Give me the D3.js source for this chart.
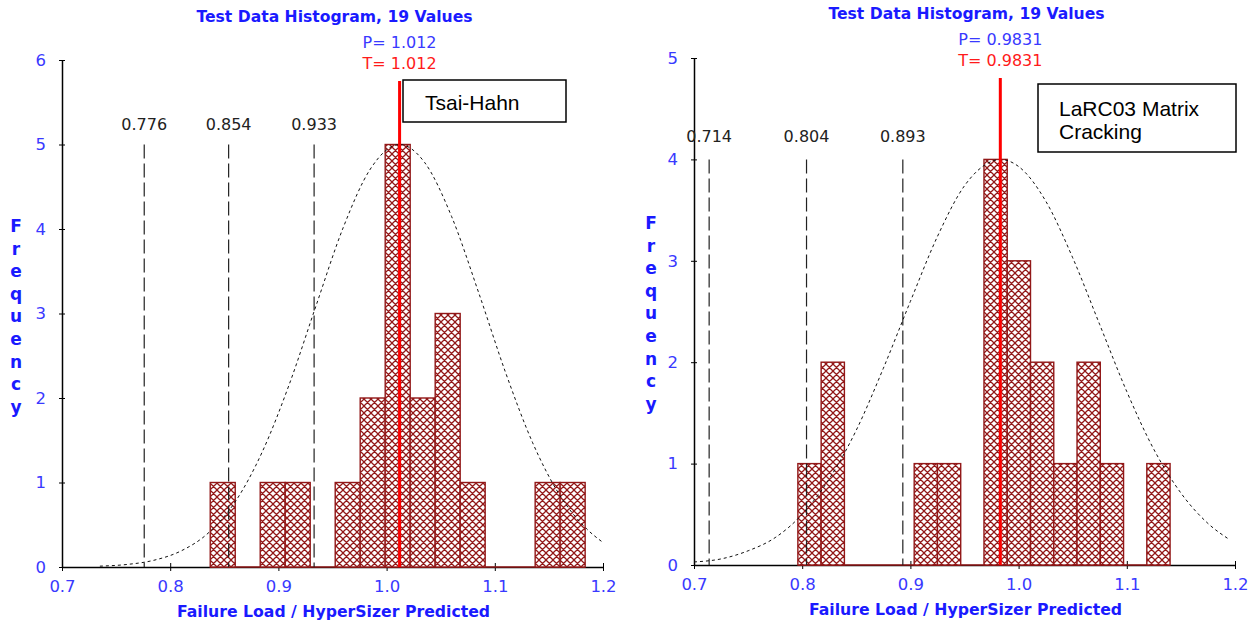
<!DOCTYPE html>
<html>
<head>
<meta charset="utf-8">
<script src="https://cdn.jsdelivr.net/npm/d3@7"></script>
<style>
  body { margin: 0; background: #fff; }
  svg { display: block; }
</style>
</head>
<body>
<svg width="1257" height="627"></svg>
<script>
// ---- data ----
var leftCounts = [1, 0, 1, 1, 0, 1, 2, 5, 2, 3, 1, 0, 0, 1, 1];
var leftBinStart = 0.837, leftBinWidth = 0.0231;
var leftMean = 1.012;
var leftSigmaLines = [0.776, 0.854, 0.933];
var leftCurveX = [0.735, 0.76, 0.785, 0.81, 0.835, 0.86, 0.885, 0.91, 0.935, 0.96, 0.985, 1.012, 1.035, 1.06, 1.085, 1.11, 1.135, 1.16, 1.185, 1.2];
var leftCurveY = [0.01, 0.03, 0.08, 0.19, 0.40, 0.77, 1.36, 2.16, 3.10, 4.02, 4.71, 5.0, 4.79, 4.15, 3.25, 2.30, 1.47, 0.85, 0.45, 0.29];

var rightCounts = [1, 2, 0, 0, 0, 1, 1, 0, 4, 3, 2, 1, 2, 1, 0, 1];
var rightBinStart = 0.796, rightBinWidth = 0.0215;
var rightMean = 0.9831;
var rightSigmaLines = [0.714, 0.804, 0.893];
var rightCurveX = [0.70, 0.725, 0.75, 0.775, 0.80, 0.825, 0.85, 0.875, 0.90, 0.925, 0.95, 0.975, 0.983, 1.00, 1.025, 1.05, 1.075, 1.10, 1.125, 1.15, 1.175, 1.195];
var rightCurveY = [0.03, 0.06, 0.14, 0.27, 0.50, 0.85, 1.33, 1.94, 2.60, 3.24, 3.74, 3.98, 4.0, 3.93, 3.59, 3.03, 2.37, 1.71, 1.14, 0.71, 0.41, 0.25];

var xTicks = [0.7, 0.8, 0.9, 1.0, 1.1, 1.2];

var svg = d3.select("svg");
var barColor = "#921818";
var fontMain = "'DejaVu Sans'";

// crosshatch fill
var defs = svg.append("defs");
var pat = defs.append("pattern")
  .attr("id", "hatch")
  .attr("patternUnits", "userSpaceOnUse")
  .attr("width", 7).attr("height", 7);
pat.append("rect").attr("width", 7).attr("height", 7).attr("fill", "#fff");
pat.append("path")
  .attr("d", "M0,0L7,7M0,7L7,0M-1,1L1,-1M6,8L8,6M-1,6L1,8M6,-1L8,1")
  .attr("stroke", barColor).attr("stroke-width", 1.25);

function drawChart(cfg) {
  var x = d3.scaleLinear().domain([0.7, 1.2]).range([cfg.left, cfg.right]);
  var y = d3.scaleLinear().domain([0, cfg.ymax]).range([cfg.bottom, cfg.top]);
  var g = svg.append("g");
  var maxCount = d3.max(cfg.counts);

  // title
  g.append("text")
    .attr("x", (cfg.left + cfg.right) / 2 + 2).attr("y", cfg.titleY)
    .attr("text-anchor", "middle")
    .style("font", "bold 15.6px " + fontMain).attr("fill", "#1a1aff")
    .text("Test Data Histogram, 19 Values");

  // P / T labels
  g.append("text")
    .attr("x", x(cfg.mean)).attr("y", cfg.pY)
    .attr("text-anchor", "middle")
    .style("font", "16px " + fontMain).attr("fill", "#3939ff")
    .text("P= " + cfg.meanLabel);
  g.append("text")
    .attr("x", x(cfg.mean)).attr("y", cfg.tY)
    .attr("text-anchor", "middle")
    .style("font", "16px " + fontMain).attr("fill", "#ff1a1a")
    .text("T= " + cfg.meanLabel);

  // bars
  var bins = cfg.counts.map(function(c, i) {
    return { x0: cfg.binStart + i * cfg.binWidth, x1: cfg.binStart + (i + 1) * cfg.binWidth, n: c };
  }).filter(function(d) { return d.n > 0; });

  // axes
  var xAxis = g.append("g")
    .attr("transform", "translate(0," + cfg.bottom + ")")
    .call(d3.axisBottom(x).tickValues(xTicks).tickFormat(d3.format(".1f")).tickSize(4).tickSizeOuter(0));
  var yAxis = g.append("g")
    .attr("transform", "translate(" + cfg.left + ",0)")
    .call(d3.axisLeft(y).ticks(cfg.ymax).tickFormat(d3.format("d")).tickSize(3).tickSizeOuter(0).tickPadding(13));
  [xAxis, yAxis].forEach(function(a) {
    a.select(".domain").attr("stroke", "#000").attr("stroke-width", 1.5);
    a.selectAll(".tick line").attr("stroke", "#000");
    a.selectAll(".tick text").attr("fill", "#3939ff").style("font-size", "16.5px").style("font-family", fontMain);
  });
  xAxis.selectAll(".tick text").attr("y", 25).attr("dy", null);
  xAxis.selectAll(".tick line").attr("y1", -4);
  yAxis.selectAll(".tick line").attr("x1", 3);

  // red baseline under the histogram range
  g.append("line")
    .attr("x1", x(cfg.binStart)).attr("x2", x(cfg.binStart + cfg.counts.length * cfg.binWidth))
    .attr("y1", cfg.bottom).attr("y2", cfg.bottom)
    .attr("stroke", barColor).attr("stroke-width", 1.5);

  g.append("g").selectAll("rect").data(bins).enter().append("rect")
    .attr("x", function(d) { return x(d.x0); })
    .attr("y", function(d) { return y(d.n); })
    .attr("width", function(d) { return x(d.x1) - x(d.x0); })
    .attr("height", function(d) { return y(0) - y(d.n); })
    .attr("fill", "url(#hatch)")
    .attr("stroke", barColor).attr("stroke-width", 1.4);

  // sigma lines
  g.append("g").selectAll("line").data(cfg.sigmaLines).enter().append("line")
    .attr("x1", function(d) { return x(d); }).attr("x2", function(d) { return x(d); })
    .attr("y1", y(maxCount)).attr("y2", cfg.bottom)
    .attr("stroke", "#222").attr("stroke-width", 1.2)
    .attr("stroke-dasharray", "14,5");
  g.append("g").selectAll("text").data(cfg.sigmaLines).enter().append("text")
    .attr("x", function(d) { return x(d); }).attr("y", cfg.sigmaLabelY)
    .attr("text-anchor", "middle")
    .style("font", "16px " + fontMain).attr("fill", "#222")
    .text(function(d) { return d3.format(".3f")(d); });

  // fitted curve
  var pts = cfg.curveX.map(function(v, i) { return [v, cfg.curveY[i]]; });
  g.append("path")
    .datum(pts)
    .attr("d", d3.line().x(function(d) { return x(d[0]); }).y(function(d) { return y(d[1]); }).curve(d3.curveMonotoneX))
    .attr("fill", "none").attr("stroke", "#111").attr("stroke-width", 1)
    .attr("stroke-dasharray", "3,3");

  // mean line
  g.append("line")
    .attr("x1", x(cfg.mean)).attr("x2", x(cfg.mean))
    .attr("y1", cfg.redTop).attr("y2", cfg.bottom)
    .attr("stroke", "#ff0000").attr("stroke-width", 3);

  // "Frequency"
  g.append("g").selectAll("text").data("Frequency".split("")).enter().append("text")
    .attr("x", cfg.freqX).attr("y", function(d, i) { return cfg.freqY + i * 22.6; })
    .attr("text-anchor", "middle")
    .style("font", "bold 17px " + fontMain).attr("fill", "#1a1aff")
    .text(function(d) { return d; });

  // x title
  g.append("text")
    .attr("x", (cfg.left + cfg.right) / 2 + 1).attr("y", cfg.bottom + 50)
    .attr("text-anchor", "middle")
    .style("font", "bold 15.7px " + fontMain).attr("fill", "#1a1aff")
    .text("Failure Load / HyperSizer Predicted");

  // note box
  g.append("rect")
    .attr("x", cfg.box[0]).attr("y", cfg.box[1]).attr("width", cfg.box[2]).attr("height", cfg.box[3])
    .attr("fill", "#fff").attr("stroke", "#000").attr("stroke-width", 1.5);
  var t = g.append("text")
    .style("font", "21px 'Liberation Sans'").attr("fill", "#000");
  cfg.boxText.forEach(function(s, i) {
    t.append("tspan").attr("x", cfg.box[0] + cfg.boxPad).attr("y", cfg.boxTextY + i * 22.5).text(s);
  });
}

drawChart({
  left: 62, right: 603, top: 60, bottom: 567, ymax: 6,
  counts: leftCounts, binStart: leftBinStart, binWidth: leftBinWidth,
  mean: leftMean, meanLabel: "1.012", sigmaLines: leftSigmaLines, sigmaLabelY: 130,
  curveX: leftCurveX, curveY: leftCurveY,
  titleY: 22, pY: 48, tY: 69, redTop: 81, freqX: 16, freqY: 232,
  box: [403, 80, 163, 42], boxText: ["Tsai-Hahn"], boxPad: 22, boxTextY: 110
});

drawChart({
  left: 694, right: 1235, top: 58, bottom: 565, ymax: 5,
  counts: rightCounts, binStart: rightBinStart, binWidth: rightBinWidth,
  mean: rightMean, meanLabel: "0.9831", sigmaLines: rightSigmaLines, sigmaLabelY: 142,
  curveX: rightCurveX, curveY: rightCurveY,
  titleY: 19, pY: 45, tY: 66, redTop: 78, freqX: 651, freqY: 229,
  box: [1038, 84, 198, 68], boxText: ["LaRC03 Matrix", "Cracking"], boxPad: 21, boxTextY: 116
});
</script>
</body>
</html>
